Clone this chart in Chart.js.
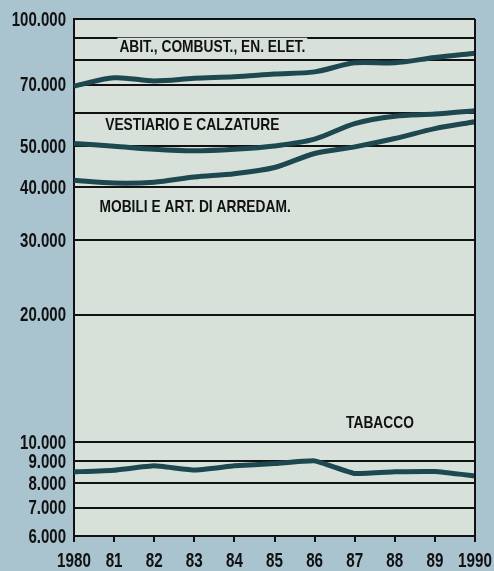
<!DOCTYPE html>
<html>
<head>
<meta charset="utf-8">
<script src="https://cdn.jsdelivr.net/npm/chart.js@4/dist/chart.umd.min.js"></script>
<style>
  html, body { margin: 0; padding: 0; background: #a9c3cf; }
  #wrap { width: 494px; height: 571px; position: relative; }
</style>
</head>
<body>
<div id="wrap"><canvas id="c" width="494" height="571"></canvas></div>
<script>
const years = ['1980', '81', '82', '83', '84', '85', '86', '87', '88', '89', '1990'];
const abitazione = [69400, 72600, 71400, 72400, 73000, 74100, 75000, 78800, 78800, 81100, 83000];
const vestiario = [50800, 50050, 49200, 48800, 49200, 50100, 52000, 56600, 58900, 59600, 60700];
const mobili = [41560, 40960, 41150, 42320, 43100, 44560, 48100, 49870, 52180, 55080, 57160];
const tabacco = [8506, 8584, 8790, 8590, 8790, 8900, 9030, 8430, 8506, 8520, 8318];
const seriesNames = ['ABIT., COMBUST., EN. ELET.', 'VESTIARIO E CALZATURE', 'MOBILI E ART. DI ARREDAM.', 'TABACCO'];
const yTickValues = [6000, 7000, 8000, 9000, 10000, 20000, 30000, 40000, 50000, 60000, 70000, 80000, 90000, 100000];
const yTickLabels = ['6.000', '7.000', '8.000', '9.000', '10.000', '20.000', '30.000', '40.000', '50.000', '', '70.000', '', '', '100.000'];

// label anchors (category index, value) for the in-chart series names
const labelAnchors = [
  { i: 3.45, v: 86000 },
  { i: 2.95, v: 56400 },
  { i: 3.02, v: 36060 },
  { i: 7.63, v: 11110 }
];

const FONT = "'Liberation Sans', Arial, sans-serif";
const LINE = '#1d4850';
const PLOTBG = '#d7e1d9';
const INK = '#111';

function narrowText(ctx, text, x, y, sx, align) {
  ctx.save();
  ctx.translate(x, y);
  ctx.scale(sx, 1);
  ctx.textAlign = align;
  ctx.textBaseline = 'middle';
  ctx.fillText(text, 0, 0);
  ctx.restore();
}

const plotBg = {
  id: 'plotBg',
  beforeDraw(chart) {
    const { ctx, chartArea: a } = chart;
    ctx.save();
    ctx.fillStyle = PLOTBG;
    ctx.fillRect(a.left, a.top, a.right - a.left, a.bottom - a.top);
    ctx.restore();
  },
  beforeDatasetsDraw(chart) {
    const { ctx, scales } = chart;
    ctx.save();
    ctx.font = "bold 17px " + FONT;
    const sx = 0.81;
    labelAnchors.forEach((p, k) => {
      const x = scales.x.getPixelForValue(p.i);
      const y = scales.y.getPixelForValue(p.v);
      const w = ctx.measureText(seriesNames[k]).width * sx;
      ctx.fillStyle = PLOTBG;
      ctx.fillRect(x - w / 2 - 2, y - 9, w + 4, 19);
      ctx.fillStyle = INK;
      narrowText(ctx, seriesNames[k], x, y + 1, sx, 'center');
    });
    ctx.restore();
  },
  afterDraw(chart) {
    const { ctx, chartArea: a, scales } = chart;
    ctx.save();
    ctx.strokeStyle = INK;
    ctx.lineWidth = 2;
    ctx.beginPath();
    ctx.moveTo(a.right, a.top);
    ctx.lineTo(a.right, a.bottom + 6);
    ctx.stroke();
    ctx.fillStyle = INK;
    ctx.font = "bold 20px " + FONT;
    yTickValues.forEach((v, k) => {
      if (!yTickLabels[k]) return;
      narrowText(ctx, yTickLabels[k], a.left - 8, scales.y.getPixelForValue(v) + 1, 0.75, 'right');
    });
    years.forEach((lab, i) => {
      narrowText(ctx, lab, scales.x.getPixelForValue(i), a.bottom + 25, 0.76, 'center');
    });
    ctx.restore();
  }
};

const mk = (data, tension) => ({
  data, borderColor: LINE, borderWidth: 5, pointRadius: 0, tension, fill: false
});

new Chart(document.getElementById('c'), {
  type: 'line',
  data: {
    labels: years,
    datasets: [mk(abitazione, 0.3), mk(vestiario, 0.3), mk(mobili, 0.3), mk(tabacco, 0.1)]
  },
  plugins: [plotBg],
  options: {
    responsive: false,
    animation: false,
    layout: { padding: { top: 19, right: 19, left: 0, bottom: 0 } },
    plugins: { legend: { display: false }, tooltip: { enabled: false } },
    scales: {
      x: {
        type: 'category',
        offset: false,
        afterFit(scale) { scale.height = 35; },
        grid: { display: true, drawOnChartArea: false, drawTicks: true, tickLength: 6, color: INK, lineWidth: 2 },
        border: { display: true, color: INK, width: 2 },
        ticks: { display: false, autoSkip: false }
      },
      y: {
        type: 'logarithmic',
        min: 6000,
        max: 100000,
        afterBuildTicks(scale) {
          scale.ticks = yTickValues.map(v => ({ value: v }));
        },
        afterFit(scale) { scale.width = 74; },
        grid: { display: true, drawOnChartArea: true, drawTicks: false, color: INK, lineWidth: 2 },
        border: { display: true, color: INK, width: 2 },
        ticks: { display: false, autoSkip: false }
      }
    }
  }
});
</script>
</body>
</html>
